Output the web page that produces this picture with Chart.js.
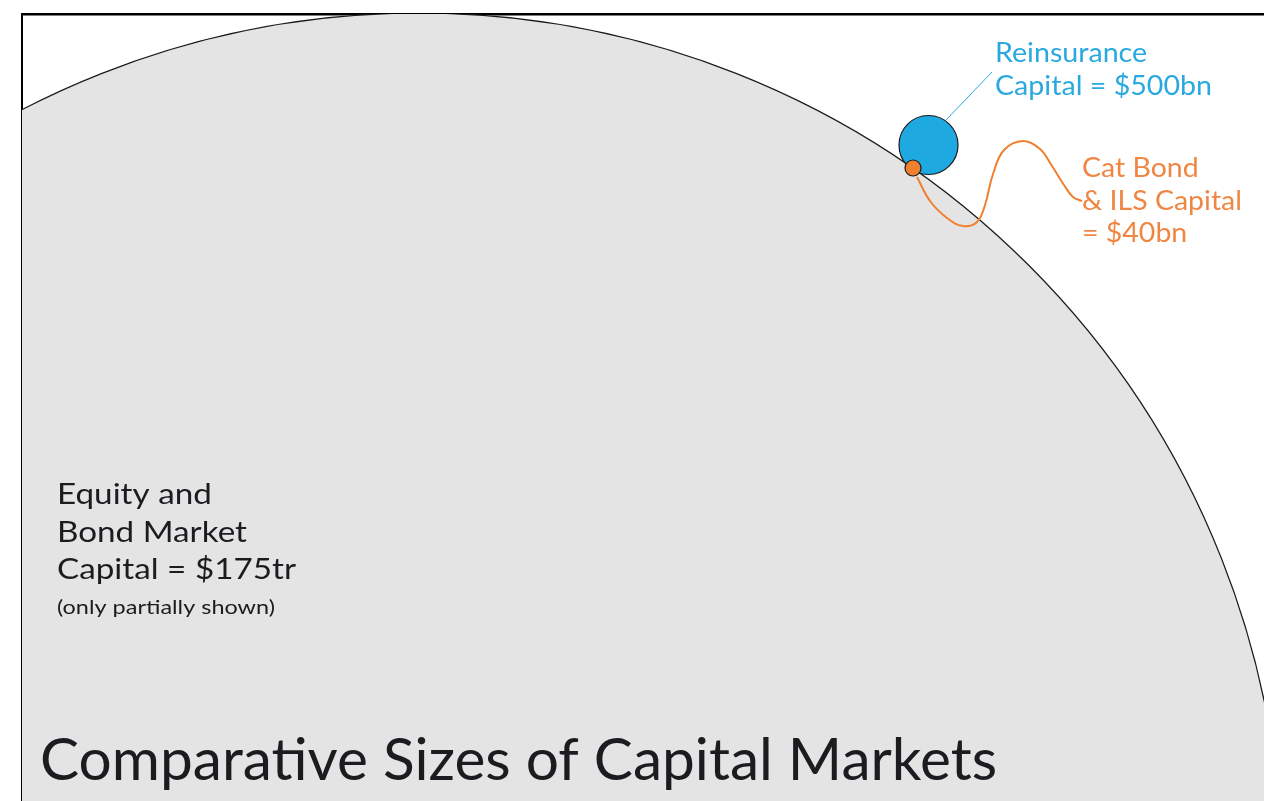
<!DOCTYPE html>
<html>
<head>
<meta charset="utf-8">
<title>Comparative Sizes of Capital Markets</title>
<script src="https://cdn.jsdelivr.net/npm/chart.js@4/dist/chart.umd.min.js"></script>
<style>
  html, body { margin: 0; padding: 0; background: #ffffff; }
  #wrap { position: relative; width: 1264px; height: 801px; }
</style>
</head>
<body>
<div id="wrap"><canvas id="marketsChart"></canvas></div>
<script>
// Capital pools, in $bn
const marketNames = ['Equity and Bond Market', 'Reinsurance', 'Cat Bond & ILS'];
const capitalBn = [175000, 500, 40];
const capitalLabels = ['$175tr', '$500bn', '$40bn'];

// Circle layout in plot units (1 unit = 1px, origin at canvas top-left)
const circleX = [419, 928.5, 913];
const circleY = [876, 145, 168];
const circleR = [863, 29.5, 8];

// Leader lines from the small circles out to their labels
const reinsLeaderX = [946, 992];
const reinsLeaderY = [120, 72];
const catLeaderX = [917, 930, 947, 963, 977, 985, 993, 1004, 1023, 1040, 1052, 1064, 1073, 1082];
const catLeaderY = [177, 201, 218, 226, 222, 205, 174, 150, 141, 149, 166, 185, 197, 201];

const GREY = '#e4e4e4';
const BLUE = '#1ea9e1';
const BLUE_TEXT = '#29a9df';
const ORANGE = '#f0802f';
const ORANGE_TEXT = '#ef8743';
const INK = '#1b1b20';
const FONT = 'Lato, "Open Sans", sans-serif';

function circlePoint(i) {
  return [{ x: circleX[i], y: circleY[i], r: circleR[i], v: capitalBn[i] }];
}

function leaderPoints(xs, ys) {
  return xs.map((x, i) => ({ x: x, y: ys[i] }));
}

// Text blocks placed next to each pool; fit = [line, width] sets the horizontal stretch
const labelBlocks = [
  { lines: ['Equity and', 'Bond Market', 'Capital = ' + capitalLabels[0]], x: 57, y: 504, gap: 37.5, size: 28, color: INK, fit: [2, 239] },
  { lines: ['(only partially shown)'], x: 57, y: 614, gap: 0, size: 20, color: INK, fit: [0, 218] },
  { lines: ['Reinsurance', 'Capital = ' + capitalLabels[1]], x: 995, y: 62, gap: 33, size: 27, color: BLUE_TEXT, fit: [1, 217] },
  { lines: ['Cat Bond', '& ILS Capital', '= ' + capitalLabels[2]], x: 1082, y: 177, gap: 32.5, size: 27, color: ORANGE_TEXT, fit: [1, 160] }
];

const titleText = 'Comparative Sizes of Capital Markets';

const labelPlugin = {
  id: 'marketLabels',
  afterDraw(chart) {
    const { ctx, scales: { x, y } } = chart;
    ctx.save();
    ctx.textBaseline = 'alphabetic';
    ctx.textAlign = 'left';
    labelBlocks.forEach(b => {
      ctx.font = b.size + 'px ' + FONT;
      ctx.fillStyle = b.color;
      const stretch = b.fit[1] / ctx.measureText(b.lines[b.fit[0]]).width;
      b.lines.forEach((line, i) => {
        ctx.save();
        ctx.translate(x.getPixelForValue(b.x), y.getPixelForValue(b.y + i * b.gap));
        ctx.scale(stretch, 1);
        ctx.fillText(line, 0, 0);
        ctx.restore();
      });
    });

    // condensed title along the bottom
    ctx.font = '58px ' + FONT;
    ctx.fillStyle = INK;
    const w = ctx.measureText(titleText).width;
    ctx.translate(40, 780);
    ctx.scale(957 / w, 1);
    ctx.fillText(titleText, 0, 0);
    ctx.restore();
  }
};

const ctx = document.getElementById('marketsChart');

new Chart(ctx, {
  type: 'bubble',
  data: {
    datasets: [
      {
        label: marketNames[0],
        data: circlePoint(0),
        backgroundColor: GREY,
        borderColor: '#1a1a1a',
        borderWidth: 1.2,
        clip: 0,
        order: 5
      },
      {
        type: 'line',
        label: marketNames[2] + ' leader',
        data: leaderPoints(catLeaderX, catLeaderY),
        borderColor: ORANGE,
        borderWidth: 2,
        pointRadius: 0,
        tension: 0.4,
        fill: false,
        order: 4
      },
      {
        type: 'line',
        label: marketNames[1] + ' leader',
        data: leaderPoints(reinsLeaderX, reinsLeaderY),
        borderColor: BLUE_TEXT,
        borderWidth: 1,
        pointRadius: 0,
        fill: false,
        order: 3
      },
      {
        label: marketNames[1],
        data: circlePoint(1),
        backgroundColor: BLUE,
        borderColor: '#1a1a1a',
        borderWidth: 1.2,
        order: 2
      },
      {
        label: marketNames[2],
        data: circlePoint(2),
        backgroundColor: ORANGE,
        borderColor: '#1a1a1a',
        borderWidth: 1.2,
        order: 1
      }
    ]
  },
  options: {
    responsive: true,
    maintainAspectRatio: false,
    animation: false,
    events: [],
    layout: { autoPadding: false, padding: { left: 22, top: 14, right: 0, bottom: 0 } },
    plugins: {
      legend: { display: false },
      tooltip: { enabled: false },
      title: { display: false }
    },
    scales: {
      x: {
        type: 'linear',
        position: 'top',
        min: 22,
        max: 1264,
        z: 1,
        grid: { display: false, drawTicks: false },
        ticks: { display: false },
        border: { display: true, color: '#000000', width: 2.5 }
      },
      y: {
        type: 'linear',
        position: 'left',
        reverse: true,
        min: 14,
        max: 801,
        z: 1,
        grid: { display: false, drawTicks: false },
        ticks: { display: false },
        border: { display: true, color: '#000000', width: 2 }
      }
    }
  },
  plugins: [labelPlugin]
});
</script>
</body>
</html>
